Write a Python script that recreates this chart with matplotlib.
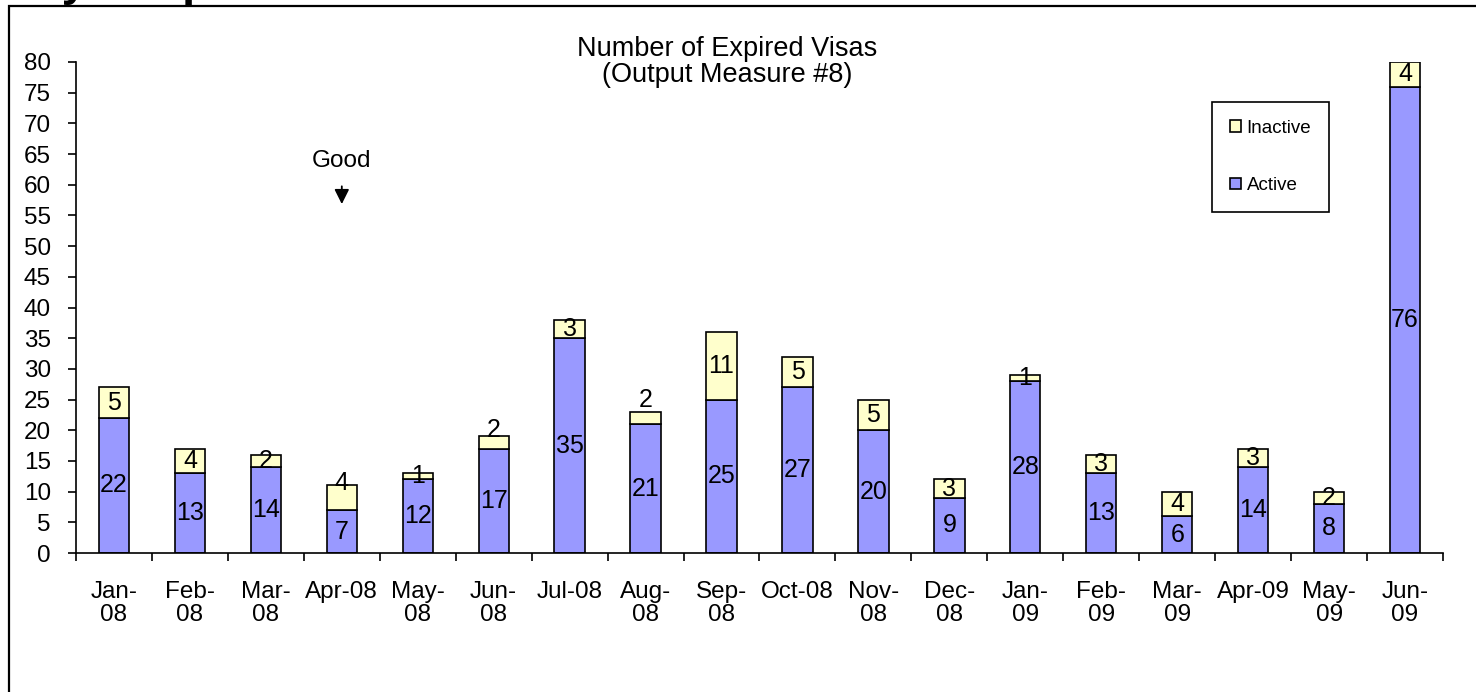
import numpy as np
import matplotlib.pyplot as plt
from matplotlib.patches import Rectangle

plt.rcParams['font.family'] = ['Liberation Sans', 'DejaVu Sans']

months = ['Jan-\n08', 'Feb-\n08', 'Mar-\n08', 'Apr-08', 'May-\n08', 'Jun-\n08',
          'Jul-08', 'Aug-\n08', 'Sep-\n08', 'Oct-08', 'Nov-\n08', 'Dec-\n08',
          'Jan-\n09', 'Feb-\n09', 'Mar-\n09', 'Apr-09', 'May-\n09', 'Jun-\n09']
active = [22, 13, 14, 7, 12, 17, 35, 21, 25, 27, 20, 9, 28, 13, 6, 14, 8, 76]
inactive = [5, 4, 2, 4, 1, 2, 3, 2, 11, 5, 5, 3, 1, 3, 4, 3, 2, 4]

active_col = '#9999FF'
inactive_col = '#FFFFCC'
fs = 17.5

W, H = 1476, 692
fig = plt.figure(figsize=(W / 100, H / 100), dpi=100)
ax = fig.add_axes([76 / W, 1 - 553 / H, (1443 - 76) / W, (553 - 62) / H])

x = np.arange(len(months))
ax.bar(x, active, width=0.4, color=active_col, edgecolor='black', linewidth=1.2,
       label='Active', zorder=2)
ax.bar(x, inactive, width=0.4, bottom=active, color=inactive_col, edgecolor='black',
       linewidth=1.2, label='Inactive', zorder=2)

# value labels in the middle of each segment; a few small ones pushed up a bit
nudge = {3: 2.4, 5: 2.0, 7: 3.0}
for i in x:
    ax.text(i, active[i] / 2, str(active[i]), ha='center', va='center', fontsize=18, zorder=3)
    yi = active[i] + inactive[i] / 2 + nudge.get(i, 0)
    ax.text(i, yi, str(inactive[i]), ha='center', va='center', fontsize=18, zorder=3)

ax.set_xlim(-0.5, len(months) - 0.5)
ax.set_ylim(0, 80)
ax.set_yticks(np.arange(0, 81, 5))
ax.set_xticks(x)
ax.set_xticklabels(months, linespacing=1.05)
ax.set_xticks(np.arange(-0.5, len(months), 1), minor=True)
ax.tick_params(axis='x', which='major', length=0, pad=20.5, labelsize=fs)
ax.tick_params(axis='x', which='minor', length=6, width=1.2, direction='out')
ax.tick_params(axis='y', length=6, width=1.2, direction='out', pad=12, labelsize=fs)
for s in ['top', 'right']:
    ax.spines[s].set_visible(False)
for s in ['left', 'bottom']:
    ax.spines[s].set_linewidth(1.2)

# "Good" marker above Apr-08
ax.annotate('', xy=(3, 56.4), xytext=(3, 60.2),
            arrowprops=dict(arrowstyle='-|>', color='black', lw=1.3, mutation_scale=22))
ax.text(3, 63.8, 'Good', ha='center', va='center', fontsize=fs)

handles, labels = ax.get_legend_handles_labels()
leg = ax.legend(handles[::-1], labels[::-1], loc='upper left',
                bbox_to_anchor=(1212 / W, 1 - 102 / H), bbox_transform=fig.transFigure,
                fontsize=13.5, handlelength=0.6, handleheight=0.6, handletextpad=0.3,
                labelspacing=2.15, borderpad=0.95, borderaxespad=0, fancybox=False,
                framealpha=1, edgecolor='black')
leg.get_frame().set_linewidth(1.2)

fig.text(727 / W, 1 - 62 / H, 'Number of Expired Visas\n(Output Measure #8)',
         ha='center', va='center', fontsize=19.5, linespacing=1.0)

# heading sitting above the frame
fig.text(1 / W, 1 + 5 / H, 'Key Output Measures', ha='left', va='baseline',
         fontsize=34, fontweight='bold')

fig.patches.append(Rectangle((9 / W, -0.1), 1.2, 1.1 - 6 / H, transform=fig.transFigure,
                             fill=False, edgecolor='black', linewidth=1.6))

fig.savefig('out.png', dpi=100)
